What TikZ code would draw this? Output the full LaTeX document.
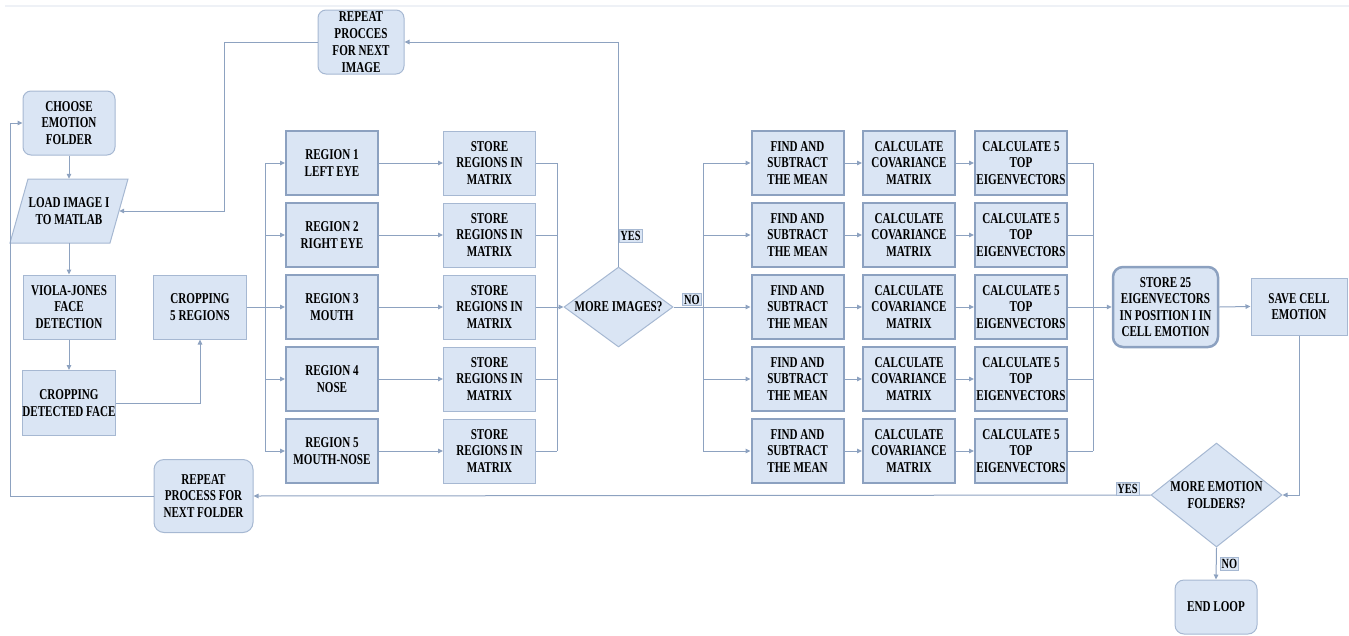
\documentclass[tikz,border=0pt]{standalone}
\usepackage{fontspec}
\setmainfont{Liberation Serif}[FakeStretch=0.74]
\usetikzlibrary{arrows.meta,shapes.geometric}
\definecolor{ln}{HTML}{8DA2C0}
\definecolor{fl}{HTML}{DAE5F4}
\definecolor{bd}{HTML}{A6B8D2}
\definecolor{bdk}{HTML}{8CA1C0}
\begin{document}
\begin{tikzpicture}[x=1pt,y=-1pt,
  font=\bfseries\fontsize{15}{16.5}\selectfont,
  box/.style={draw=bd, fill=fl, line width=1pt, minimum width=92pt, minimum height=64pt, inner sep=0pt, align=center},
  tbox/.style={box, draw=bdk, line width=2pt},
  rbox/.style={box, rounded corners=8pt},
  dia/.style={diamond, draw=bd, fill=fl, line width=1pt, inner sep=0pt, align=center},
  lbl/.style={draw=bd, fill=fl, line width=0.8pt, inner sep=1.5pt, font=\bfseries\fontsize{14}{15}\selectfont},
  conn/.style={draw=ln, line width=1pt},
  arr/.style={conn, -{Triangle[length=5pt,width=4.5pt]}}]
\useasboundingbox (0,0) rectangle (1349,635);
\draw[draw=ln!15, line width=1.5pt] (5,6) -- (1349,6);

% left column
\node[rbox] (choose) at (69,123) {CHOOSE\\EMOTION\\FOLDER};
\draw[draw=bd, fill=fl, line width=1pt] (10,243) -- (110,243) -- (128,179) -- (28,179) -- cycle;
\node[minimum width=100pt, minimum height=64pt, inner sep=0pt, align=center] (load) at (69,211) {LOAD IMAGE I\\TO MATLAB};
\node[box] (viola) at (69,307) {VIOLA-JONES\\FACE\\DETECTION};
\node[box, minimum height=65pt] (cropf) at (69,403) {CROPPING\\DETECTED FACE};
\node[box, minimum width=93pt] (crop5) at (200,307) {CROPPING\\5 REGIONS};
\node[rbox, minimum width=86pt, font=\bfseries\fontsize{15}{16.8}\selectfont] (repimg) at (361,42) {REPEAT\\PROCCES\\FOR NEXT\\IMAGE};
\node[rbox, minimum width=99pt, minimum height=73pt, rounded corners=10pt] (repfold) at (203.5,496) {REPEAT\\PROCESS FOR\\NEXT FOLDER};

% regions and store
\foreach \i/\y/\t in {1/163/LEFT EYE, 2/235/RIGHT EYE, 3/307/MOUTH, 4/379/NOSE, 5/451/MOUTH-NOSE}{
  \node[tbox] (r\i) at (332,\y) {REGION \i\\\t};
  \node[box] (st\i) at (489.5,\y) {STORE\\REGIONS IN\\MATRIX};
  \node[tbox] (f\i) at (797.5,\y) {FIND AND\\SUBTRACT\\THE MEAN};
  \node[tbox] (c\i) at (909,\y) {CALCULATE\\COVARIANCE\\MATRIX};
  \node[tbox] (t\i) at (1021,\y) {CALCULATE 5\\TOP\\EIGENVECTORS};
}

\node[dia, minimum width=109pt, minimum height=80pt, aspect=1.36] (dimg) at (618.5,307) {MORE IMAGES?};
\node[rbox, draw=bdk, line width=2.5pt, minimum width=105pt, minimum height=80pt, rounded corners=10pt] (store25) at (1165.5,307) {STORE 25\\EIGENVECTORS\\IN POSITION I IN\\CELL EMOTION};
\node[box, minimum width=96pt, minimum height=57pt] (save) at (1299,306.5) {SAVE CELL\\EMOTION};
\node[dia, minimum width=131pt, minimum height=104pt, aspect=1.26] (demo) at (1216.5,495) {MORE EMOTION\\FOLDERS?};
\node[rbox, minimum width=82pt, minimum height=54pt, rounded corners=9pt] (endl) at (1216,607) {END LOOP};

% coordinates
\coordinate (s1) at (265,307);
\coordinate (m1) at (557,307);
\coordinate (s2) at (703,307);
\coordinate (m2) at (1093,307);
\coordinate (k1) at (224,211);
\coordinate (k2) at (10,496);

% connectors
\draw[arr] (choose.south) -- (load.north);
\draw[arr] (load.south) -- (viola.north);
\draw[arr] (viola.south) -- (cropf.north);
\draw[arr] (cropf.east) -| (crop5.south);
\draw[conn] (crop5.east) -- (s1);
\draw[conn] (s1 |- r1) -- (s1 |- r5);
\foreach \i in {1,...,5}{
  \draw[arr] (s1 |- r\i) -- (r\i.west);
  \draw[arr] (r\i.east) -- (st\i.west);
  \draw[conn] (st\i.east) -- (m1 |- st\i);
  \draw[arr] (s2 |- f\i) -- (f\i.west);
  \draw[arr] (f\i.east) -- (c\i.west);
  \draw[arr] (c\i.east) -- (t\i.west);
  \draw[conn] (t\i.east) -- (m2 |- t\i);
}
\draw[conn] (m1 |- st1) -- (m1 |- st5);
\draw[arr] (m1) -- (dimg.west);
\draw[arr] (dimg.north) |- (repimg.east);
\draw[arr] (repimg.west) -| (k1) -- (load.east);
\draw[conn] (dimg.east) -- (s2);
\draw[conn] (s2 |- f1) -- (s2 |- f5);
\draw[conn] (m2 |- t1) -- (m2 |- t5);
\draw[arr] (m2) -- (store25.west);
\draw[arr] (store25.east) -- (save.west);
\draw[arr] (save.south) |- (demo.east);
\draw[arr] (demo.west) -- (repfold.east);
\draw[arr] (repfold.west) -- (k2) |- (choose.west);
\draw[arr] (demo.south) -- (endl.north);

% labels
\node[lbl] (yes1) at (630.5,236) {YES};
\node[lbl] (no1) at (692,299.5) {NO};
\node[lbl] (yes2) at (1127.5,489) {YES};
\node[lbl] (no2) at (1229.5,564) {NO};
\end{tikzpicture}
\end{document}
